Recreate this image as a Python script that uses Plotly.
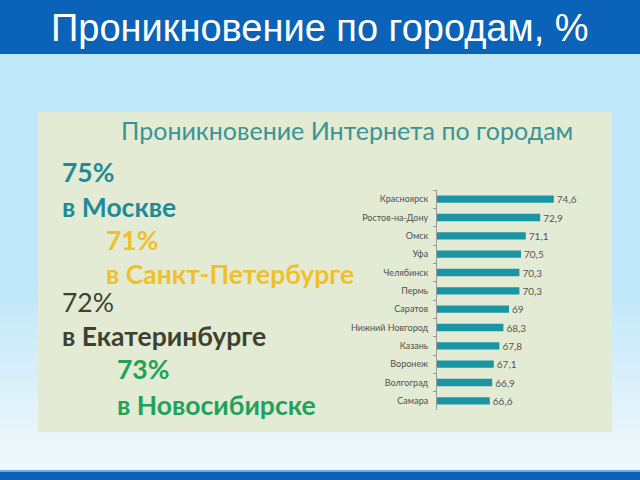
import plotly.graph_objects as go

cities = ["Красноярск", "Ростов-на-Дону", "Омск", "Уфа", "Челябинск", "Пермь",
          "Саратов", "Нижний Новгород", "Казань", "Воронеж", "Волгоград", "Самара"]
values = [74.6, 72.9, 71.1, 70.5, 70.3, 70.3, 69, 68.3, 67.8, 67.1, 66.9, 66.6]
value_labels = [f"{v:g}".replace(".", ",") for v in values]

main_title = "Проникновение по городам, %"
panel_title = "Проникновение Интернета по городам"
highlights = [("75%", "в Москве"), ("71%", "в Санкт-Петербурге"),
              ("72%", "в Екатеринбурге"), ("73%", "в Новосибирске")]

W, H = 640, 480
L, R, T, B = 437, 610, 190, 410
X0 = 60


def px(x):
    return (x - L) / (R - L)


def py(y):
    return (B - y) / (B - T)


fig = go.Figure(go.Bar(
    x=[v - X0 for v in values], base=X0, y=cities, orientation="h",
    marker=dict(color="#1A95A4", line=dict(width=0)), width=0.4,
    text=value_labels, textposition="outside", cliponaxis=False,
    constraintext="none",
    textfont=dict(family="Lato", size=10, color="#555555"),
))


def hexmix(c1, c2, t):
    a = [int(c1[i:i + 2], 16) for i in (1, 3, 5)]
    b = [int(c2[i:i + 2], 16) for i in (1, 3, 5)]
    return "#" + "".join(f"{round(x + (y - x) * t):02X}" for x, y in zip(a, b))


shapes = []
shapes.append(dict(type="rect", xref="paper", yref="paper", layer="below",
                   x0=px(0), x1=px(W), y0=py(280), y1=py(54),
                   fillcolor="#BEE7F9", line=dict(width=0)))
# smooth gradient towards bottom
y = 280
step = 6
while y < 472:
    t = min(1.0, (y - 280) / 170)
    c = hexmix("#BEE7F9", "#EEF7FB", t)
    shapes.append(dict(type="rect", xref="paper", yref="paper", layer="below",
                       x0=px(0), x1=px(W), y0=py(min(y + step, 472)), y1=py(y),
                       fillcolor=c, line=dict(width=0)))
    y += step
# top banner
shapes.append(dict(type="rect", xref="paper", yref="paper", layer="below",
                   x0=px(0), x1=px(W), y0=py(54), y1=py(0),
                   fillcolor="#0A63B8", line=dict(width=0)))
# bottom bar
shapes.append(dict(type="rect", xref="paper", yref="paper", layer="below",
                   x0=px(0), x1=px(W), y0=py(480), y1=py(471),
                   fillcolor="#0A63B8", line=dict(width=0)))
shapes.append(dict(type="rect", xref="paper", yref="paper", layer="below",
                   x0=px(0), x1=px(W), y0=py(472), y1=py(470),
                   fillcolor="#6FA8DC", line=dict(width=0)))
# panel
shapes.append(dict(type="rect", xref="paper", yref="paper", layer="below",
                   x0=px(38), x1=px(612), y0=py(432), y1=py(112),
                   fillcolor="#E3EBD4", line=dict(width=0)))

annotations = [
    dict(text=main_title, x=px(320), y=py(28), xref="paper", yref="paper",
         showarrow=False, xanchor="center", yanchor="middle",
         font=dict(family="Liberation Sans, Arial", size=38, color="white")),
    dict(text=panel_title, x=px(347), y=py(130), xref="paper", yref="paper",
         showarrow=False, xanchor="center", yanchor="middle",
         font=dict(family="Lato", size=25, color="#3A9494")),
]

colors = ["#1F8B97", "#F0C02C", "#3D4232", "#21A25B"]
pct_weights = ["bold", "bold", "normal", "bold"]
city_weights = ["bold", "bold", "bold", "bold"]
pct_pos = [(60, 172), (104, 240), (60, 302), (115, 369)]
city_pos = [(60, 207), (104, 274), (60, 336), (115, 405)]
for (pct, city), c, pw, cw, pp, cp in zip(highlights, colors, pct_weights, city_weights,
                                          pct_pos, city_pos):
    annotations.append(dict(text=pct, x=px(pp[0]), y=py(pp[1]), xref="paper", yref="paper",
                            showarrow=False, xanchor="left", yanchor="middle",
                            font=dict(family="Lato", size=26.5, color=c, weight=pw)))
    annotations.append(dict(text=city, x=px(cp[0]), y=py(cp[1]), xref="paper", yref="paper",
                            showarrow=False, xanchor="left", yanchor="middle",
                            font=dict(family="Lato", size=26.5, color=c, weight=cw)))

fig.update_layout(
    width=W, height=H,
    margin=dict(l=L, r=W - R, t=T, b=H - B, pad=0),
    paper_bgcolor="#BEE7F9", plot_bgcolor="rgba(0,0,0,0)",
    showlegend=False,
    shapes=shapes, annotations=annotations,
    xaxis=dict(range=[X0, X0 + (R - L) / 8], visible=False, fixedrange=True),
    yaxis=dict(autorange="reversed", type="category",
               showline=True, linecolor="#9A9A9A", linewidth=1,
               ticks="outside", tickson="boundaries", ticklen=3, tickcolor="#9A9A9A",
               showgrid=False, zeroline=False, ticklabelstandoff=6,
               tickfont=dict(family="Lato", size=9, color="#505050")),
)

fig.write_html("out.html")
